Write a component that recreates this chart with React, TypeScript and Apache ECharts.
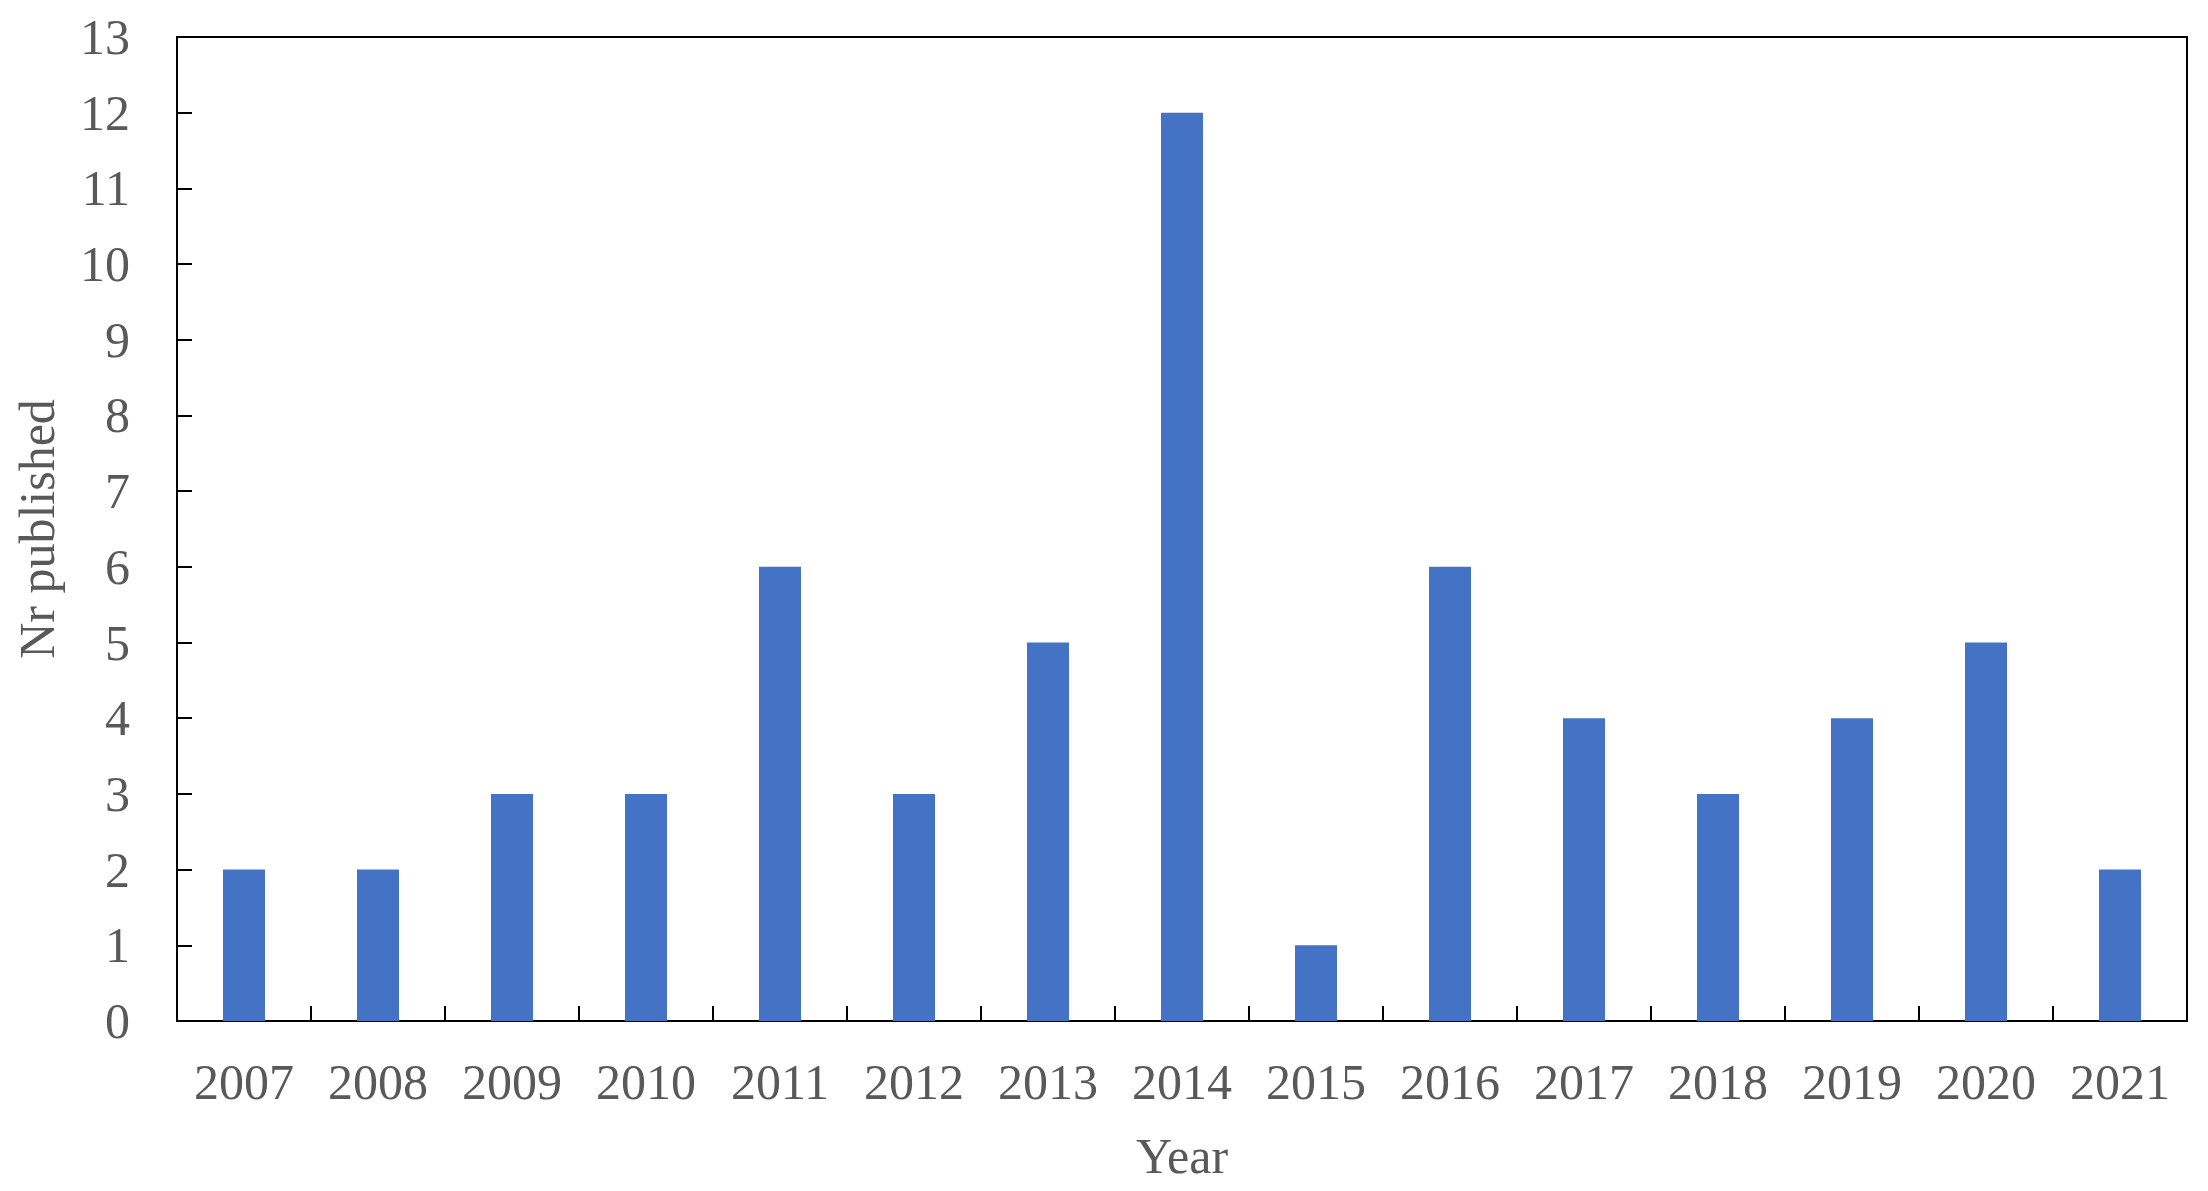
import React, { useEffect, useRef } from "react";
import * as echarts from "echarts";

const years = ["2007", "2008", "2009", "2010", "2011", "2012", "2013", "2014", "2015", "2016", "2017", "2018", "2019", "2020", "2021"];
const published = [2, 2, 3, 3, 6, 3, 5, 12, 1, 6, 4, 3, 4, 5, 2];

const FONT = "'Liberation Serif', 'Times New Roman', serif";
const TEXT = "#595959";

export default function App() {
  const ref = useRef<HTMLDivElement>(null);
  useEffect(() => {
    if (!ref.current) return;
    const chart = echarts.init(ref.current, null, { renderer: "svg" });
    chart.setOption({
      animation: false,
      backgroundColor: "#ffffff",
      grid: {
        left: 177,
        right: 21,
        top: 37,
        bottom: 170,
        show: true,
        borderColor: "#000000",
        borderWidth: 2,
      },
      xAxis: {
        type: "category",
        data: years,
        name: "Year",
        nameLocation: "middle",
        nameGap: 110,
        nameTextStyle: { fontFamily: FONT, fontSize: 50, color: TEXT },
        axisLine: { show: true, lineStyle: { color: "#000", width: 2 } },
        axisTick: { show: true, inside: true, length: 15, alignWithLabel: false, lineStyle: { color: "#000", width: 2 } },
        axisLabel: { fontFamily: FONT, fontSize: 50, color: TEXT, margin: 36, interval: 0 },
        splitLine: { show: false },
      },
      yAxis: {
        type: "value",
        min: 0,
        max: 13,
        interval: 1,
        name: "Nr published",
        nameLocation: "middle",
        nameGap: 115,
        nameTextStyle: { fontFamily: FONT, fontSize: 50, color: TEXT },
        axisLine: { show: true, lineStyle: { color: "#000", width: 2 } },
        axisTick: { show: true, inside: true, length: 15, lineStyle: { color: "#000", width: 2 } },
        axisLabel: { fontFamily: FONT, fontSize: 50, color: TEXT, margin: 47 },
        splitLine: { show: false },
      },
      series: [
        {
          type: "bar",
          data: published,
          barWidth: 42,
          itemStyle: { color: "#4472C4" },
        },
      ],
    });
    return () => chart.dispose();
  }, []);
  return (
    <div
      ref={ref}
      style={{ position: "absolute", left: 0, top: 0, width: 2208, height: 1191, background: "#fff" }}
    />
  );
}
